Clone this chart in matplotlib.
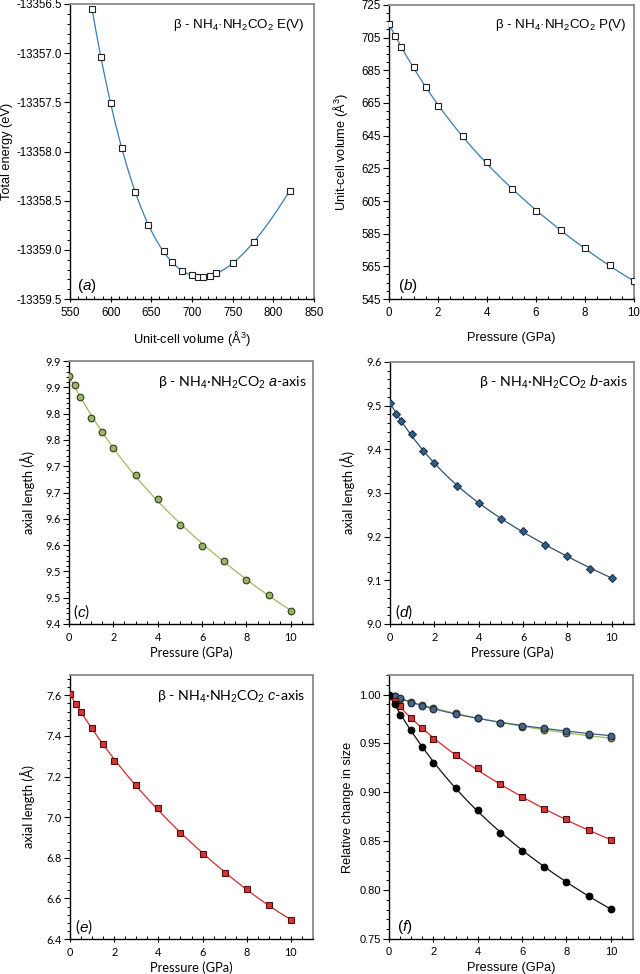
import numpy as np
import matplotlib
matplotlib.use("Agg")
import matplotlib.pyplot as plt
from matplotlib.ticker import MultipleLocator, FormatStrFormatter, FixedLocator, FixedFormatter

plt.rcParams['mathtext.fontset'] = 'custom'
plt.rcParams['mathtext.rm'] = 'Liberation Sans'
plt.rcParams['mathtext.it'] = 'Liberation Sans:italic'
plt.rcParams['axes.unicode_minus'] = False

ARIAL = 'Liberation Sans'
CALIB = 'Lato'

# ---------------- data ----------------
# (a) E(V)
volume_a = [577, 588, 600, 614, 630, 646, 665, 676, 688, 700, 707.5, 714, 722, 730, 751, 776, 820]
energy_a = [-13356.546, -13357.044, -13357.508, -13357.969, -13358.416, -13358.744,
            -13359.008, -13359.127, -13359.218, -13359.259, -13359.272, -13359.272,
            -13359.265, -13359.238, -13359.133, -13358.917, -13358.402]

pressure = [0, 0.25, 0.5, 1, 1.5, 2, 3, 4, 5, 6, 7, 8, 9, 10]
# (b) P(V)
volume_b = [713.6, 706.2, 699.1, 686.8, 674.6, 663.2, 645.0, 628.9, 612.3, 598.9, 587.0, 576.2, 565.6, 555.8]
b_yticks = [545, 565, 585, 605, 625, 645, 665, 685, 705, 725]
# (c) a-axis
a_axis = [9.871, 9.855, 9.831, 9.792, 9.765, 9.734, 9.684, 9.637, 9.589, 9.549, 9.520, 9.484, 9.456, 9.425]
c_yticks = [9.40, 9.45, 9.50, 9.55, 9.60, 9.65, 9.70, 9.75, 9.80, 9.85, 9.90]
c_yticklabels = ['9.4', '9.5', '9.5', '9.6', '9.6', '9.7', '9.7', '9.8', '9.8', '9.9', '9.9']
# (d) b-axis
b_axis = [9.507, 9.482, 9.465, 9.434, 9.396, 9.368, 9.317, 9.278, 9.241, 9.212, 9.181, 9.156, 9.127, 9.106]
# (e) c-axis
c_axis = [7.607, 7.559, 7.516, 7.437, 7.358, 7.278, 7.156, 7.044, 6.921, 6.818, 6.727, 6.648, 6.566, 6.494]
# (f) relative change
rel_a = [1.0, 0.9984, 0.9959, 0.9920, 0.9893, 0.9861, 0.9811, 0.9763, 0.9714, 0.9671, 0.9641, 0.9607, 0.9583, 0.9553]
rel_b = [1.0, 0.9983, 0.9962, 0.9915, 0.9884, 0.9857, 0.9805, 0.9758, 0.9713, 0.9683, 0.9655, 0.9628, 0.9600, 0.9580]
rel_c = [0.9985, 0.9937, 0.9880, 0.9758, 0.9655, 0.9542, 0.9385, 0.9245, 0.9081, 0.8948, 0.8825, 0.8723, 0.8617, 0.8514]
rel_v = [1.0, 0.9900, 0.9795, 0.9635, 0.9464, 0.9303, 0.9047, 0.8822, 0.8589, 0.8402, 0.8238, 0.8087, 0.7941, 0.7804]

W, H = 640, 974
fig = plt.figure(figsize=(W / 100, H / 100), dpi=100)


def mkax(l, r, t, b):
    return fig.add_axes([l / W, 1 - b / H, (r - l) / W, (b - t) / H])


def style(ax, fam, tsize):
    for s in ['left', 'bottom']:
        ax.spines[s].set_color('black')
        ax.spines[s].set_linewidth(1.0)
    for s in ['top', 'right']:
        ax.spines[s].set_color('#8a8a8a')
        ax.spines[s].set_linewidth(1.3)
    ax.tick_params(axis='x', which='major', direction='inout', length=5, width=0.8, labelsize=tsize, pad=3)
    ax.tick_params(axis='x', which='minor', direction='in', length=2.5, width=0.7)
    ax.tick_params(axis='y', which='major', direction='out', length=4, width=0.8, labelsize=tsize, pad=2)
    ax.tick_params(axis='y', which='minor', direction='out', length=2, width=0.7)
    for lab in ax.get_xticklabels() + ax.get_yticklabels():
        lab.set_family(fam)


def smooth(ax, x, y, color, deg=4, lw=0.9):
    x = np.asarray(x, float)
    y = np.asarray(y, float)
    c = np.polyfit(x, y, deg)
    xs = np.linspace(x.min(), x.max(), 300)
    ax.plot(xs, np.polyval(c, xs), color=color, lw=lw, zorder=2)


def set_labels(ax, fig_px, xl, yl, fam, xsize, ysize, xl_y, yl_x):
    ax.set_xlabel(xl, family=fam, fontsize=xsize)
    ax.set_ylabel(yl, family=fam, fontsize=ysize)
    l, r, t, b = fig_px
    ax.xaxis.set_label_coords(0.5, -(xl_y - b) / (b - t))
    ax.xaxis.label.set_va('center')
    ax.yaxis.set_label_coords(-(l - yl_x) / (r - l), 0.5)
    ax.yaxis.label.set_va('center')


def title(ax, fig_px, txt, fam, size, xr, yc):
    l, r, t, b = fig_px
    ax.text((xr - l) / (r - l), (b - yc) / (b - t), txt, transform=ax.transAxes,
            ha='right', va='center', family=fam, fontsize=size)


def plabel(ax, fig_px, letter, fam, size, xl, yc):
    l, r, t, b = fig_px
    ax.text((xl - l) / (r - l), (b - yc) / (b - t), '($\\mathit{%s}$)' % letter, transform=ax.transAxes,
            ha='left', va='center', family=fam, fontsize=size)


FORM = 'β - NH$_4$·NH$_2$CO$_2$'
line_blue = '#3a7db3'

# ---------------- (a) ----------------
pa = (70, 314, 4, 299)
ax = mkax(*pa)
smooth(ax, volume_a, energy_a, line_blue, deg=5)
ax.plot(volume_a, energy_a, ls='none', marker='s', ms=5, mfc='white', mec='#222222', mew=0.8, zorder=3)
ax.set_xlim(550, 850)
ax.set_ylim(-13359.5, -13356.5)
ax.xaxis.set_major_locator(MultipleLocator(50))
ax.xaxis.set_minor_locator(MultipleLocator(10))
ax.yaxis.set_major_locator(MultipleLocator(0.5))
ax.yaxis.set_minor_locator(MultipleLocator(0.1))
ax.yaxis.set_major_formatter(FormatStrFormatter('%.1f'))
style(ax, ARIAL, 8.3)
set_labels(ax, pa, 'Unit-cell volume (Å$^3$)', 'Total energy (eV)', ARIAL, 9.2, 9.2, 338, 7)
title(ax, pa, FORM + ' E(V)', ARIAL, 9.6, 305, 25)
plabel(ax, pa, 'a', ARIAL, 11, 77, 286)

# ---------------- (b) ----------------
pb = (389, 634, 5, 299)
ax = mkax(*pb)
smooth(ax, pressure, volume_b, line_blue, deg=4)
ax.plot(pressure, volume_b, ls='none', marker='s', ms=5, mfc='white', mec='#222222', mew=0.8, zorder=3)
ax.set_xlim(0, 10)
ax.set_ylim(545, 725)
ax.xaxis.set_major_locator(MultipleLocator(2))
ax.xaxis.set_minor_locator(MultipleLocator(0.5))
ax.yaxis.set_major_locator(FixedLocator(b_yticks))
ax.yaxis.set_minor_locator(MultipleLocator(5))
ax.yaxis.set_major_formatter(FormatStrFormatter('%d'))
style(ax, ARIAL, 8.3)
set_labels(ax, pb, 'Pressure (GPa)', 'Unit-cell volume (Å$^3$)', ARIAL, 9.2, 9.2, 338, 340)
title(ax, pb, FORM + ' P(V)', ARIAL, 9.6, 627, 25)
plabel(ax, pb, 'b', ARIAL, 11, 398, 286)

# ---------------- (c) ----------------
pc = (69, 313, 361, 624)
ax = mkax(*pc)
smooth(ax, pressure, a_axis, '#9bbb59', deg=4)
ax.plot(pressure, a_axis, ls='none', marker='o', ms=4.8, mfc='#9bb363', mec='#333a22', mew=0.8, zorder=3)
ax.set_xlim(0, 11)
ax.set_ylim(9.40, 9.90)
ax.xaxis.set_major_locator(MultipleLocator(2))
ax.xaxis.set_minor_locator(MultipleLocator(0.5))
ax.yaxis.set_major_locator(FixedLocator(c_yticks))
ax.yaxis.set_major_formatter(FixedFormatter(c_yticklabels))
ax.yaxis.set_minor_locator(MultipleLocator(0.01))
style(ax, CALIB, 7.8)
set_labels(ax, pc, 'Pressure (GPa)', 'axial length (Å)', CALIB, 9.3, 9.3, 653, 28)
title(ax, pc, FORM + ' $\\mathit{a}$-axis', CALIB, 10.3, 307, 383)
plabel(ax, pc, 'c', CALIB, 11, 73, 612)

# ---------------- (d) ----------------
pd_ = (390, 634, 362, 624)
ax = mkax(*pd_)
smooth(ax, pressure, b_axis, '#2f4f70', deg=4)
ax.plot(pressure, b_axis, ls='none', marker='D', ms=4.3, mfc='#2f5d8a', mec='#1a2b3d', mew=0.7, zorder=3)
ax.set_xlim(0, 11)
ax.set_ylim(9.0, 9.6)
ax.xaxis.set_major_locator(MultipleLocator(2))
ax.xaxis.set_minor_locator(MultipleLocator(0.5))
ax.yaxis.set_major_locator(MultipleLocator(0.1))
ax.yaxis.set_minor_locator(MultipleLocator(0.02))
ax.yaxis.set_major_formatter(FormatStrFormatter('%.1f'))
style(ax, CALIB, 7.8)
set_labels(ax, pd_, 'Pressure (GPa)', 'axial length (Å)', CALIB, 9.3, 9.3, 653, 348)
title(ax, pd_, FORM + ' $\\mathit{b}$-axis', CALIB, 10.3, 628, 382)
plabel(ax, pd_, 'd', CALIB, 11, 395, 612)

# ---------------- (e) ----------------
pe = (70, 313, 675, 939)
ax = mkax(*pe)
smooth(ax, pressure, c_axis, '#d42a2a', deg=4)
ax.plot(pressure, c_axis, ls='none', marker='s', ms=4.8, mfc='#d93434', mec='#4a1010', mew=0.8, zorder=3)
ax.set_xlim(0, 11)
ax.set_ylim(6.4, 7.7)
ax.xaxis.set_major_locator(MultipleLocator(2))
ax.xaxis.set_minor_locator(MultipleLocator(0.5))
ax.yaxis.set_major_locator(MultipleLocator(0.2))
ax.yaxis.set_minor_locator(MultipleLocator(0.04))
ax.yaxis.set_major_formatter(FormatStrFormatter('%.1f'))
style(ax, CALIB, 7.8)
set_labels(ax, pe, 'Pressure (GPa)', 'axial length (Å)', CALIB, 9.3, 9.3, 968, 28)
title(ax, pe, FORM + ' $\\mathit{c}$-axis', CALIB, 10.3, 305, 697)
plabel(ax, pe, 'e', CALIB, 11, 75, 927)

# ---------------- (f) ----------------
pf = (389, 633, 675, 939)
ax = mkax(*pf)
smooth(ax, pressure, rel_a, '#9bbb59', deg=4)
ax.plot(pressure, rel_a, ls='none', marker='o', ms=4.8, mfc='#9bb363', mec='#333a22', mew=0.8, zorder=3)
smooth(ax, pressure, rel_b, '#3f5f80', deg=4)
ax.plot(pressure, rel_b, ls='none', marker='o', ms=4.8, mfc='#4a6284', mec='#1a2b3d', mew=0.8, zorder=3)
smooth(ax, pressure, rel_c, '#d42a2a', deg=4)
ax.plot(pressure, rel_c, ls='none', marker='s', ms=4.8, mfc='#d93434', mec='#4a1010', mew=0.8, zorder=3)
smooth(ax, pressure, rel_v, '#111111', deg=4)
ax.plot(pressure, rel_v, ls='none', marker='o', ms=4.8, mfc='black', mec='black', mew=0.8, zorder=4)
ax.set_xlim(0, 11)
ax.set_ylim(0.75, 1.02)
ax.xaxis.set_major_locator(MultipleLocator(2))
ax.xaxis.set_minor_locator(MultipleLocator(0.5))
ax.yaxis.set_major_locator(MultipleLocator(0.05))
ax.yaxis.set_minor_locator(MultipleLocator(0.01))
ax.yaxis.set_major_formatter(FormatStrFormatter('%.2f'))
style(ax, ARIAL, 8)
set_labels(ax, pf, 'Pressure (GPa)', 'Relative change in size', ARIAL, 9.2, 9.2, 968, 348)
plabel(ax, pf, 'f', ARIAL, 11, 397, 927)

fig.savefig('out.png', dpi=100)
